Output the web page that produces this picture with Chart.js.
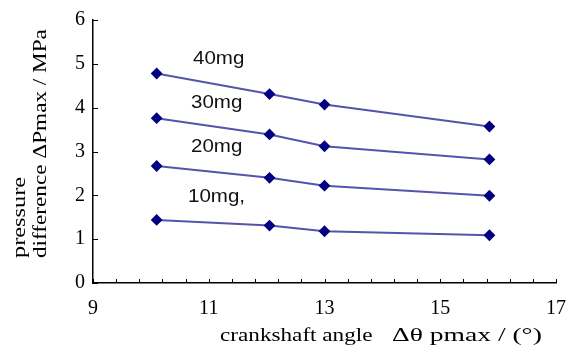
<!DOCTYPE html>
<html>
<head>
<meta charset="utf-8">
<script src="https://cdn.jsdelivr.net/npm/chart.js@4"></script>
<style>
  html, body { margin: 0; padding: 0; background: #fff; }
  #wrap { width: 580px; height: 351px; }
</style>
</head>
<body>
<div id="wrap"><canvas id="chart" width="580" height="351"></canvas></div>
<script>
// crankshaft angle values (deg)
const angles = [10.1, 12.05, 13.0, 15.85];
// pressure difference per injection mass (MPa)
const p40 = [4.78, 4.31, 4.07, 3.57];
const p30 = [3.76, 3.39, 3.12, 2.82];
const p20 = [2.67, 2.40, 2.22, 1.99];
const p10 = [1.44, 1.31, 1.18, 1.09];
const seriesNames = ['40mg', '30mg', '20mg', '10mg,'];
const xTickLabels = [9, 11, 13, 15, 17];
const yTickLabels = [0, 1, 2, 3, 4, 5, 6];

const lineColor = '#5454ac';
const markColor = '#000080';
const serif = 'Liberation Serif';

function toPoints(ys) {
    return angles.map((x, i) => ({ x: x, y: ys[i] }));
}

const datasets = [p40, p30, p20, p10].map((ys, i) => ({
    label: seriesNames[i],
    data: toPoints(ys),
    borderColor: lineColor,
    borderWidth: 2,
    backgroundColor: markColor,
    pointBackgroundColor: markColor,
    pointBorderColor: markColor,
    pointStyle: 'rectRot',
    pointRadius: 4.5,
    tension: 0
}));

// draw text stretched along its own direction to match the wide original font
function wideText(ctx, text, x, y, stretch) {
    ctx.save();
    ctx.translate(x, y);
    ctx.scale(stretch, 1);
    ctx.fillText(text, 0, 0);
    ctx.restore();
}

// series labels, axis titles, inside ticks
const extras = {
    id: 'extras',
    afterDraw(chart) {
        const ctx = chart.ctx;
        const xs = chart.scales.x;
        const ys = chart.scales.y;
        const area = chart.chartArea;
        ctx.save();

        // minor ticks on x (every 0.4), pointing up into the plot
        ctx.strokeStyle = '#000';
        ctx.lineWidth = 1;
        ctx.beginPath();
        for (let v = 9; v <= 17.001; v += 0.4) {
            const px = Math.round(xs.getPixelForValue(v)) + 0.5;
            ctx.moveTo(px, area.bottom);
            ctx.lineTo(px, area.bottom - 4);
        }
        yTickLabels.forEach(v => {
            const py = Math.round(ys.getPixelForValue(v)) + 0.5;
            ctx.moveTo(area.left, py);
            ctx.lineTo(area.left + 5, py);
        });
        ctx.stroke();

        // series names
        ctx.fillStyle = '#111';
        ctx.font = '19px "Liberation Sans"';
        ctx.textAlign = 'left';
        ctx.textBaseline = 'middle';
        const labelPos = [[193, 59], [191, 103], [191, 147], [188, 197]];
        seriesNames.forEach((name, i) => {
            wideText(ctx, name, labelPos[i][0], labelPos[i][1], 1.08);
        });

        // axis titles
        ctx.fillStyle = '#000';
        ctx.font = '19px "' + serif + '"';
        wideText(ctx, 'crankshaft angle', 220, 336, 1.22);
        wideText(ctx, '\u0394\u03b8 pmax / (\u00b0)', 392, 336, 1.45);

        ctx.rotate(-Math.PI / 2);
        wideText(ctx, 'pressure', -258, 20, 1.28);
        wideText(ctx, 'difference \u0394Pmax / MPa', -258, 41, 1.22);
        ctx.restore();
    }
};

new Chart(document.getElementById('chart').getContext('2d'), {
    type: 'scatter',
    data: { datasets: datasets },
    plugins: [extras],
    options: {
        responsive: false,
        animation: false,
        showLine: true,
        layout: { padding: { top: 18, right: 20, left: 0, bottom: 0 } },
        plugins: {
            legend: { display: false },
            tooltip: { enabled: false }
        },
        scales: {
            x: {
                type: 'linear',
                min: 9,
                max: 17,
                afterFit(scale) { scale.height = 68; },
                afterBuildTicks(scale) {
                    scale.ticks = xTickLabels.map(v => ({ value: v }));
                },
                grid: { display: false, drawTicks: false },
                border: { display: true, color: '#000', width: 1.5 },
                ticks: {
                    color: '#000',
                    font: { family: serif, size: 20 },
                    padding: 14,
                    maxRotation: 0,
                    autoSkip: false
                }
            },
            y: {
                type: 'linear',
                min: 0,
                max: 6,
                afterFit(scale) { scale.width = 93; },
                afterBuildTicks(scale) {
                    scale.ticks = yTickLabels.map(v => ({ value: v }));
                },
                grid: { display: false, drawTicks: false },
                border: { display: true, color: '#000', width: 1.5 },
                ticks: {
                    color: '#000',
                    font: { family: serif, size: 20 },
                    padding: 8
                }
            }
        }
    }
});
</script>
</body>
</html>
